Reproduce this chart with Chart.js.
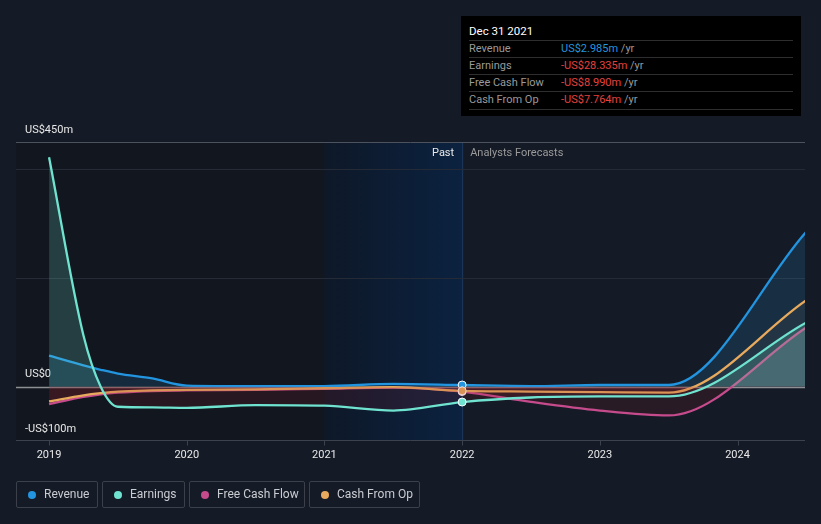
<!DOCTYPE html>
<html>
<head>
<meta charset="utf-8">
<script src="https://cdn.jsdelivr.net/npm/chart.js@4"></script>
<style>
  body { margin: 0; background: #151b26; font-family: Roboto, "Noto Sans", sans-serif; }
  #wrap { position: relative; width: 821px; height: 524px; overflow: hidden; }
  #chart { position: absolute; left: 0; top: 0; }
  .tip { position: absolute; left: 461px; top: 16px; width: 340px; height: 100px; background: #000; font-size: 11px; }
  .tip .ttl { position: absolute; left: 8px; top: 8px; color: #fff; font-size: 11.5px; }
  .tip .row { position: absolute; left: 8px; width: 324px; height: 17px; border-top: 1px solid #2e2e2e; color: #9a9a9a; line-height: 16px; }
  .tip .row span.v { position: absolute; left: 92px; }
  .tip .row.last { border-bottom: 1px solid #2e2e2e; }
  .leg { position: absolute; top: 481px; height: 25px; border: 1px solid #3b404b; border-radius: 2px; color: #c9ccd1; font-size: 12px; line-height: 25px; box-sizing: content-box; }
  .leg i { position: absolute; left: 11px; top: 9px; width: 8px; height: 8px; border-radius: 50%; }
  .leg span { position: absolute; left: 27px; white-space: nowrap; }
</style>
</head>
<body>
<div id="wrap">
  <canvas id="chart" width="821" height="524"></canvas>
  <div class="tip">
    <div class="ttl">Dec 31 2021</div>
    <div class="row" style="top:24px">Revenue<span class="v"><b style="font-weight:normal;color:#2394df">US$2.985m</b> /yr</span></div>
    <div class="row" style="top:41px">Earnings<span class="v"><b style="font-weight:normal;color:#e5413e">-US$28.335m</b> /yr</span></div>
    <div class="row" style="top:58px">Free Cash Flow<span class="v"><b style="font-weight:normal;color:#e5413e">-US$8.990m</b> /yr</span></div>
    <div class="row last" style="top:75px">Cash From Op<span class="v"><b style="font-weight:normal;color:#e5413e">-US$7.764m</b> /yr</span></div>
  </div>
  <div class="leg" style="left:16px;width:80px"><i style="background:#2394df"></i><span>Revenue</span></div>
  <div class="leg" style="left:102px;width:81px"><i style="background:#6fe3cf"></i><span>Earnings</span></div>
  <div class="leg" style="left:189px;width:114px"><i style="background:#c54b8c"></i><span>Free Cash Flow</span></div>
  <div class="leg" style="left:309px;width:109px"><i style="background:#e8aa5d"></i><span>Cash From Op</span></div>
</div>
<script>
// time axis (decimal years)
const pastYears = [2019, 2019.25, 2019.375, 2019.5, 2019.75, 2020, 2020.5, 2021, 2021.5, 2022];
const forecastYears = [2022.5, 2023, 2023.5, 2024.5];
// values in US$ millions (past then forecast)
const revenuePast = [57, 39, 31, 24, 15, 2, 1, 1, 5, 2.985];
const revenueFc = [1, 3, 3, 285];
const earningsPast = [422, 94, 0, -37, -38, -39, -34, -35, -44, -28.335];
const earningsFc = [-20, -18, -18, 118];
const fcfPast = [-32, -19, -14, -11, -8, -7, -6, -4, -2, -8.99];
const fcfFc = [-28, -44, -53, 109];
const cfoPast = [-27, -16, -12, -9, -7, -6, -5, -3, -1, -7.764];
const cfoFc = [-9, -10, -11, 159];
const yearTicks = [2019, 2020, 2021, 2022, 2023, 2024];
const yLabels = [[450, "US$450m"], [0, "US$0"], [-100, "-US$100m"]];
const gridLines = [200, 400];
const pastStart = 2021, pastEnd = 2022;

function pts(past, fc) {
  const xs = pastYears.concat(forecastYears);
  return past.concat(fc).map((v, i) => ({ x: xs[i], y: v }));
}
function marker(ctx) {
  return ctx.raw && ctx.raw.x === 2022 ? 4 : 0;
}

const redBelow = "rgba(150, 30, 45, 0.16)";

const bgPlugin = {
  id: "bg",
  beforeDatasetsDraw(chart) {
    const c = chart.ctx, a = chart.chartArea;
    const x = chart.scales.x, y = chart.scales.y;
    const x21 = x.getPixelForValue(pastStart), x22 = x.getPixelForValue(pastEnd);
    c.save();
    c.fillStyle = "#12161e";
    c.fillRect(a.left, a.top, x21 - a.left, a.bottom - a.top);
    const g = c.createLinearGradient(x21, 0, x22, 0);
    g.addColorStop(0, "#0e1828");
    g.addColorStop(1, "#0b2240");
    c.fillStyle = g;
    c.fillRect(x21, a.top, x22 - x21, a.bottom - a.top);
    c.strokeStyle = "#1d3a60";
    c.lineWidth = 1;
    c.beginPath();
    c.moveTo(x22 + 0.5, a.top);
    c.lineTo(x22 + 0.5, a.bottom);
    c.stroke();
    // grid
    c.strokeStyle = "#252b36";
    gridLines.forEach(v => {
      const py = Math.round(y.getPixelForValue(v)) + 0.5;
      c.beginPath(); c.moveTo(a.left, py); c.lineTo(a.right, py); c.stroke();
    });
    c.strokeStyle = "#4d535e";
    let py = Math.round(y.getPixelForValue(450)) + 0.5;
    c.beginPath(); c.moveTo(a.left, py); c.lineTo(a.right, py); c.stroke();
    c.strokeStyle = "#3d434e";
    py = Math.round(y.getPixelForValue(-100)) - 0.5;
    c.beginPath(); c.moveTo(a.left, py); c.lineTo(a.right, py); c.stroke();
    yearTicks.forEach(t => {
      const px = Math.round(x.getPixelForValue(t)) + 0.5;
      c.beginPath(); c.moveTo(px, py); c.lineTo(px, py + 5); c.stroke();
    });
    // labels
    c.font = "11px Roboto, sans-serif";
    c.textBaseline = "middle";
    c.fillStyle = "#e8e8e8";
    c.textAlign = "center";
    yearTicks.forEach(t => c.fillText(String(t), x.getPixelForValue(t), py + 15));
    c.textAlign = "left";
    yLabels.forEach(([v, s]) => c.fillText(s, 25, y.getPixelForValue(v) - 12));
    c.textAlign = "right";
    c.fillText("Past", x22 - 8, a.top + 11);
    c.textAlign = "left";
    c.fillStyle = "#9a9a9a";
    c.fillText("Analysts Forecasts", x22 + 8, a.top + 11);
    c.restore();
  }
};

const zeroPlugin = {
  id: "zero",
  beforeDatasetDraw(chart, args) {
    if (args.index !== 0) return;
    const c = chart.ctx, a = chart.chartArea, y = chart.scales.y;
    const py = Math.round(y.getPixelForValue(0)) + 0.5;
    c.save();
    c.strokeStyle = "#8d8f94";
    c.lineWidth = 1.5;
    c.beginPath(); c.moveTo(a.left, py); c.lineTo(a.right, py); c.stroke();
    c.restore();
  }
};

new Chart(document.getElementById("chart"), {
  type: "line",
  data: {
    datasets: [
      {
        label: "Revenue", data: pts(revenuePast, revenueFc), borderColor: "#2394df", backgroundColor: "#2394df",
        fill: { target: "origin", above: "rgba(35, 148, 223, 0.16)", below: "rgba(0,0,0,0)" }, order: 4
      },
      {
        label: "Earnings", data: pts(earningsPast, earningsFc), borderColor: "#6fe3cf", backgroundColor: "#6fe3cf",
        fill: { target: "origin", above: "rgba(111, 227, 207, 0.2)", below: redBelow }, order: 1
      },
      {
        label: "Free Cash Flow", data: pts(fcfPast, fcfFc), borderColor: "#c54b8c", backgroundColor: "#c54b8c",
        fill: { target: "origin", above: "rgba(200, 200, 210, 0.16)", below: redBelow }, order: 3
      },
      {
        label: "Cash From Op", data: pts(cfoPast, cfoFc), borderColor: "#e8aa5d", backgroundColor: "#e8aa5d",
        fill: { target: "origin", above: "rgba(232, 170, 93, 0.06)", below: redBelow }, order: 2
      }
    ].map(d => Object.assign(d, {
      borderWidth: 2.3, cubicInterpolationMode: "monotone",
      pointRadius: marker, pointHoverRadius: marker, pointBorderColor: "#ffffff", pointBorderWidth: 1
    }))
  },
  options: {
    responsive: false,
    animation: false,
    layout: { padding: { left: 16, right: 16, top: 142, bottom: 83 } },
    scales: {
      x: { type: "linear", display: false, min: 2018.76, max: 2024.49 },
      y: { display: false, min: -100, max: 450 }
    },
    plugins: { legend: { display: false }, tooltip: { enabled: false } }
  },
  plugins: [bgPlugin, zeroPlugin]
});
</script>
</body>
</html>
